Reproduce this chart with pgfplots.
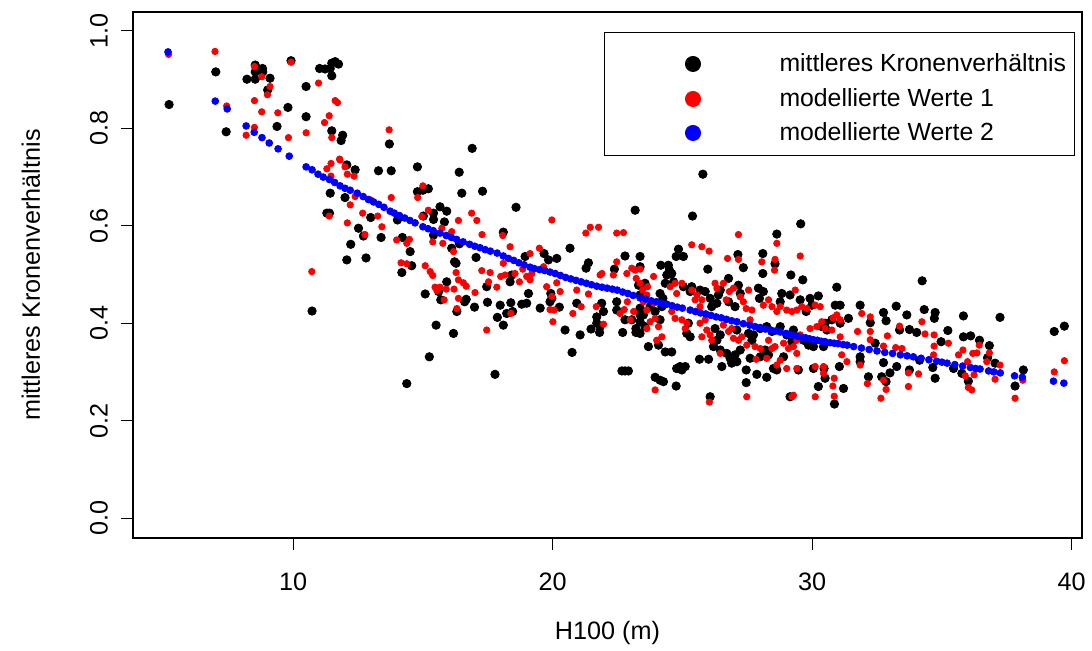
\documentclass[border=0pt]{standalone}
\usepackage{fontspec}
\setmainfont{Liberation Sans}
\usepackage{pgfplots}
\pgfplotsset{compat=1.18}
\newcommand{\fs}{\fontsize{12.6}{15}\selectfont}
\newcommand{\fl}{\fontsize{12.4}{15}\selectfont}
\pgfplotsset{
  legA/.style={legend image code/.code={\path (-40pt,15.5pt) (43pt,-8.5pt); \draw[##1, mark size=3.75pt] plot coordinates {(0pt,0pt)};}},
  legB/.style={legend image code/.code={\path (-40pt,8.5pt) (43pt,-8.25pt); \draw[##1, mark size=3.75pt] plot coordinates {(0pt,0pt)};}},
  legC/.style={legend image code/.code={\path (-40pt,8.25pt) (43pt,-11pt); \draw[##1, mark size=3.75pt] plot coordinates {(0pt,0pt)};}},
}
\begin{document}
\begin{tikzpicture}[font=\fs]
\begin{axis}[
  scale only axis, width=474.5pt, height=263pt,
  xmin=3.83, xmax=40.40, ymin=-0.041, ymax=1.039,
  axis line style={line width=0.6pt, black},
  xtick={10,20,30,40}, ytick={0,0.2,0.4,0.6,0.8,1.0},
  xtick pos=left, ytick pos=left, tick align=outside,
  major tick length=6pt, tick style={line width=0.5pt, black},
  /pgf/number format/assume math mode=true,
  yticklabel style={/pgf/number format/fixed, /pgf/number format/fixed zerofill, /pgf/number format/precision=1, rotate=90, anchor=center},
  xticklabel style={anchor=center},
  xticklabel shift=16pt, yticklabel shift=11pt,
  tick label style={font=\fs},
  label style={font=\fs},
  xlabel={H100 (m)}, ylabel={mittleres Kronenverhältnis},
  xlabel style={at={(axis description cs:0.5,-0.1806)}, anchor=center},
  ylabel style={at={(axis description cs:-0.1075,0.5)}, anchor=center},
  legend cell align=left,
  legend style={at={(rel axis cs:0.4963,0.962)}, anchor=north west, draw=black, line width=0.5pt, fill=white,
    inner xsep=4pt, inner ysep=0pt, row sep=0pt, column sep=0pt, font=\fl, nodes={inner sep=0pt}},
]
% mittleres Kronenverhaeltnis (observed)
\addplot[only marks, mark=*, black, mark size=2.1pt, mark options={draw=none}, legA]
coordinates {
(5.22,0.849) (7.02,0.916) (7.42,0.793) (8.22,0.901) (8.54,0.930) (8.54,0.916) (8.54,0.901) (8.82,0.923)
(8.83,0.916) (9.11,0.903) (9.02,0.879) (9.92,0.939) (9.80,0.843) (9.38,0.804) (10.50,0.886) (10.50,0.824)
(11.02,0.923) (11.23,0.922) (11.43,0.923) (11.49,0.934) (11.62,0.937) (11.75,0.932) (11.49,0.908) (11.49,0.795)
(11.43,0.667) (11.40,0.626) (11.30,0.626) (10.73,0.425)
(11.91,0.786) (11.85,0.775) (13.71,0.768) (16.90,0.759) (12.07,0.725) (12.39,0.715) (13.29,0.713) (13.78,0.713)
(14.79,0.721) (16.40,0.710) (14.79,0.670) (15.00,0.673) (15.21,0.676) (16.50,0.667) (17.30,0.671) (18.59,0.638)
(12.00,0.658) (12.99,0.617) (12.52,0.595) (12.71,0.579) (12.22,0.562) (12.07,0.530) (12.81,0.534) (13.39,0.576)
(14.02,0.612) (14.21,0.576) (14.51,0.547) (14.19,0.504) (14.57,0.518) (15.02,0.620) (15.41,0.626) (15.66,0.639)
(15.92,0.630) (15.83,0.608) (15.41,0.613) (15.41,0.581) (16.11,0.554) (16.22,0.526) (16.28,0.523) (16.41,0.563)
(15.92,0.485) (15.69,0.448) (15.61,0.465) (16.67,0.449) (16.61,0.444) (16.31,0.424) (16.99,0.433) (15.09,0.460)
(15.51,0.396) (16.18,0.379) (15.25,0.331) (14.38,0.276) (17.78,0.295) (18.10,0.587) (17.05,0.535) (17.46,0.475)
(17.49,0.443) (17.98,0.437) (18.39,0.442) (17.87,0.412) (18.10,0.396) (18.23,0.420) (18.46,0.424) (18.36,0.485)
(18.43,0.499) (18.81,0.439) (18.94,0.537) (19.07,0.461) (19.00,0.441) (19.52,0.431) (19.67,0.543) (19.84,0.530)
(19.90,0.444)
(25.79,0.706) (23.18,0.632) (25.39,0.620) (20.67,0.554) (20.16,0.533) (22.79,0.538) (21.38,0.524) (21.29,0.513)
(22.38,0.511) (28.64,0.583) (19.93,0.461) (19.97,0.451) (20.26,0.433) (20.93,0.441) (21.89,0.441) (21.96,0.424)
(21.70,0.413) (21.70,0.400) (21.83,0.393) (20.48,0.386) (21.06,0.376) (21.48,0.388) (21.81,0.381) (20.75,0.340)
(22.47,0.444) (22.47,0.427) (22.70,0.381) (22.79,0.407) (23.05,0.407) (23.21,0.381) (23.21,0.389) (23.31,0.478)
(22.79,0.302) (22.67,0.302) (22.92,0.302)
(24.85,0.552) (24.76,0.537) (25.04,0.537) (27.14,0.541) (28.10,0.543) (28.57,0.522) (29.18,0.499) (29.64,0.489)
(28.10,0.502) (27.35,0.514) (26.78,0.492) (25.98,0.511) (24.17,0.519) (24.46,0.519) (24.50,0.509) (24.59,0.502)
(24.40,0.499) (24.66,0.485) (24.34,0.482) (23.37,0.537) (23.37,0.516) (23.56,0.482) (23.37,0.458) (24.14,0.461)
(24.25,0.451) (25.04,0.475) (25.36,0.475) (25.30,0.465) (25.68,0.468) (25.88,0.465) (26.07,0.451) (26.33,0.441)
(26.13,0.434) (26.46,0.468) (26.39,0.458) (26.78,0.444) (27.16,0.478) (27.23,0.461) (27.03,0.434) (27.93,0.472)
(28.12,0.465) (27.97,0.451) (28.83,0.461) (28.77,0.444) (29.15,0.458) (29.54,0.448) (29.92,0.451) (29.99,0.437)
(30.24,0.456) (29.77,0.424) (30.50,0.400) (30.37,0.393) (30.57,0.386) (23.37,0.431) (23.37,0.417) (23.50,0.417)
(23.76,0.434) (23.95,0.424) (24.14,0.407) (24.21,0.434) (23.37,0.403) (23.37,0.379) (23.56,0.393) (23.69,0.352)
(24.08,0.355) (24.34,0.341) (24.59,0.341) (25.23,0.400) (25.17,0.379) (25.30,0.372) (26.26,0.389) (26.33,0.365)
(26.46,0.376) (26.20,0.352) (26.46,0.345) (26.71,0.338) (27.03,0.335) (27.23,0.345) (26.84,0.328) (27.10,0.386)
(27.55,0.379) (27.68,0.365) (27.74,0.376) (28.00,0.389) (28.25,0.393) (28.45,0.383) (28.77,0.393) (29.02,0.376)
(29.28,0.386) (29.22,0.362) (29.67,0.365) (29.86,0.355) (30.05,0.352) (30.44,0.352) (27.61,0.328) (28.00,0.331)
(28.19,0.345) (28.32,0.335) (25.66,0.326) (26.01,0.326) (24.78,0.307) (24.91,0.311) (25.11,0.311) (24.98,0.304)
(26.52,0.311) (26.90,0.318) (27.10,0.321) (27.46,0.304) (27.87,0.295) (28.25,0.289) (28.51,0.307) (28.64,0.304)
(28.90,0.331) (29.47,0.304) (30.05,0.307) (30.46,0.307) (30.50,0.287) (23.95,0.289) (24.14,0.283) (24.27,0.280)
(24.76,0.271) (27.46,0.278) (26.07,0.249) (30.24,0.270) (29.15,0.249)
(29.56,0.604) (30.95,0.474) (34.24,0.487) (30.89,0.437) (31.08,0.437) (31.85,0.437) (31.40,0.410) (30.76,0.407)
(31.08,0.400) (32.24,0.401) (32.75,0.422) (32.85,0.405) (33.24,0.435) (33.65,0.417) (33.37,0.386) (33.75,0.387)
(34.03,0.381) (34.32,0.428) (34.74,0.422) (34.71,0.410) (34.97,0.362) (35.23,0.385) (35.83,0.415) (35.83,0.372)
(36.11,0.374) (36.45,0.365) (36.83,0.354) (37.24,0.412) (36.76,0.329) (37.05,0.318) (38.14,0.304) (37.82,0.271)
(39.33,0.383) (39.72,0.394) (31.05,0.311) (30.86,0.234) (31.21,0.266) (31.85,0.331) (31.85,0.321) (32.17,0.290)
(32.43,0.359) (32.75,0.319) (32.68,0.290) (32.85,0.280) (33.00,0.298) (33.26,0.311) (33.75,0.304) (34.14,0.324)
(34.65,0.309) (34.74,0.287) (35.45,0.307) (35.77,0.297) (36.02,0.281)
};
\addlegendentry{mittleres Kronenverhältnis}
% modellierte Werte 1
\addplot[only marks, mark=*, red, mark size=1.6pt, mark options={draw=none}, legB]
coordinates {
(5.20,0.952) (6.99,0.958) (7.44,0.846) (8.51,0.927) (8.79,0.906) (9.11,0.886) (9.01,0.869) (8.51,0.857)
(8.79,0.834) (9.41,0.832) (8.51,0.802) (8.19,0.786) (9.82,0.781) (9.92,0.936) (10.50,0.791) (10.98,0.893)
(11.62,0.857) (11.71,0.853) (11.39,0.826) (11.21,0.812) (11.49,0.781) (11.46,0.728) (11.79,0.737) (11.30,0.717)
(11.46,0.702) (11.39,0.620) (10.72,0.506)
(13.70,0.797) (11.81,0.735) (12.00,0.721) (12.35,0.702) (12.09,0.706) (12.20,0.643) (12.39,0.660) (12.09,0.606)
(12.68,0.626) (12.99,0.653) (13.26,0.620) (13.42,0.598) (13.78,0.658) (12.77,0.582) (13.99,0.571) (14.38,0.564)
(14.48,0.572) (14.16,0.524) (14.38,0.522) (15.00,0.682) (14.80,0.658) (15.21,0.632) (14.96,0.619) (15.09,0.518)
(15.28,0.506) (15.38,0.498) (15.47,0.474) (15.66,0.474) (15.90,0.470) (15.54,0.467) (15.82,0.448) (15.38,0.567)
(15.73,0.595) (15.77,0.564) (16.11,0.588) (16.37,0.611) (16.18,0.547) (16.28,0.504) (16.37,0.489) (16.56,0.483)
(16.67,0.476) (16.20,0.470) (16.37,0.451) (16.31,0.430) (17.01,0.463) (16.88,0.626) (17.08,0.611) (17.28,0.582)
(17.53,0.485) (17.27,0.508) (17.59,0.504) (17.46,0.386) (18.08,0.580) (18.10,0.523) (17.85,0.474) (18.00,0.496)
(18.17,0.499) (18.36,0.557) (18.39,0.420) (18.55,0.502) (18.72,0.485) (18.85,0.511) (19.00,0.496) (19.13,0.489)
(19.20,0.502) (19.13,0.543) (19.49,0.554) (19.65,0.516) (19.77,0.475) (19.90,0.428)
(19.97,0.612) (21.28,0.585) (21.45,0.597) (21.77,0.597) (22.47,0.585) (22.73,0.586) (27.16,0.582)
(21.90,0.502) (21.83,0.499) (22.34,0.499) (22.47,0.526) (22.86,0.502) (23.05,0.513) (23.18,0.509) (23.37,0.511)
(23.22,0.492) (20.16,0.483) (20.29,0.465) (20.93,0.468) (21.38,0.460) (21.10,0.434) (20.78,0.420) (19.97,0.455)
(20.06,0.427) (20.01,0.403) (21.68,0.434) (21.96,0.398) (22.60,0.420) (22.76,0.428) (22.99,0.407) (23.12,0.424)
(22.88,0.444) (26.04,0.238)
(25.36,0.561) (25.75,0.557) (26.03,0.548) (28.64,0.564) (29.54,0.538) (26.74,0.533) (27.16,0.531) (28.06,0.526)
(28.57,0.531) (28.55,0.509) (23.89,0.496) (23.37,0.482) (23.47,0.468) (23.63,0.458) (23.66,0.475) (24.53,0.475)
(24.72,0.482) (24.98,0.482) (24.78,0.461) (25.36,0.468) (25.56,0.458) (25.49,0.448) (25.75,0.448) (25.68,0.434)
(26.26,0.482) (26.33,0.472) (26.58,0.482) (26.81,0.465) (26.69,0.448) (26.97,0.472) (27.23,0.454) (27.35,0.444)
(27.55,0.468) (27.46,0.430) (27.68,0.427) (27.61,0.407) (28.12,0.437) (28.32,0.448) (28.45,0.434) (28.64,0.424)
(28.77,0.434) (29.02,0.427) (29.22,0.424) (29.41,0.427) (29.60,0.434) (29.35,0.468) (29.80,0.430) (30.12,0.437)
(30.31,0.434) (30.18,0.393) (30.37,0.403) (30.50,0.389) (29.92,0.389) (29.54,0.376) (29.41,0.365) (23.63,0.427)
(23.76,0.403) (23.95,0.410) (24.08,0.393) (23.63,0.389) (23.50,0.444) (23.89,0.441) (24.59,0.424) (24.72,0.410)
(24.98,0.407) (25.11,0.389) (25.17,0.400) (24.21,0.372) (24.01,0.365) (25.68,0.400) (25.88,0.407) (25.94,0.386)
(25.75,0.372) (26.07,0.376) (26.13,0.365) (26.58,0.396) (26.78,0.383) (26.90,0.389) (26.97,0.369) (27.16,0.365)
(27.29,0.372) (27.48,0.355) (27.80,0.352) (28.00,0.348) (28.32,0.365) (28.45,0.348) (28.57,0.352) (28.90,0.359)
(29.09,0.348) (29.28,0.352) (29.41,0.338) (28.64,0.314) (28.77,0.324) (29.02,0.307) (26.46,0.338) (27.84,0.326)
(28.25,0.328) (30.12,0.311) (30.44,0.311) (30.44,0.297) (29.41,0.307) (23.95,0.263) (27.48,0.249) (29.22,0.249)
(29.28,0.252) (30.12,0.249)
(30.80,0.411) (30.95,0.417) (31.08,0.407) (31.08,0.372) (30.76,0.386) (30.85,0.287) (30.80,0.271) (30.85,0.250)
(31.14,0.335) (31.34,0.321) (31.91,0.420) (32.24,0.413) (31.75,0.383) (32.24,0.383) (32.24,0.366) (31.85,0.314)
(32.13,0.276) (32.65,0.246) (32.85,0.264) (32.75,0.283) (32.75,0.353) (32.90,0.374) (33.22,0.350) (33.37,0.394)
(33.46,0.348) (33.71,0.298) (33.71,0.270) (34.10,0.296) (34.23,0.403) (34.35,0.378) (34.70,0.376) (34.70,0.353)
(34.68,0.335) (35.25,0.359) (35.64,0.335) (35.81,0.345) (35.99,0.321) (36.19,0.338) (36.35,0.339) (36.24,0.294)
(36.02,0.268) (36.15,0.263) (35.90,0.292) (36.44,0.355) (36.83,0.339) (36.73,0.321) (37.05,0.285) (37.24,0.314)
(38.12,0.283) (37.82,0.246) (39.33,0.300) (39.72,0.323)
};
\addlegendentry{modellierte Werte 1}
% modellierte Werte 2
\addplot[only marks, mark=*, blue, mark size=1.7pt, mark options={draw=none}, legC]
coordinates {
(5.18,0.957) (7.00,0.856) (7.46,0.840) (8.19,0.805) (8.50,0.792) (8.80,0.781) (9.08,0.770) (9.42,0.758)
(9.85,0.743) (10.50,0.721) (10.73,0.715) (10.96,0.706) (11.16,0.700) (11.40,0.695) (11.60,0.689) (11.81,0.682)
(12.00,0.677) (12.20,0.673) (12.47,0.667) (12.70,0.660) (12.90,0.654) (13.10,0.649) (13.30,0.644) (13.50,0.638)
(13.74,0.630) (13.90,0.626) (14.10,0.621) (14.30,0.616) (14.50,0.611) (14.70,0.606) (15.00,0.598) (15.20,0.594)
(15.40,0.590) (15.66,0.585) (15.90,0.580) (16.10,0.576) (16.30,0.572) (16.55,0.567) (16.80,0.562) (17.00,0.558)
(17.20,0.555) (17.40,0.551) (17.60,0.548) (17.86,0.544) (18.10,0.538) (18.30,0.533) (18.50,0.529) (18.70,0.524)
(18.90,0.520) (19.13,0.515) (19.30,0.512) (19.50,0.510) (19.70,0.508) (19.90,0.505) (20.10,0.502) (20.30,0.498)
(20.50,0.494) (20.70,0.491) (20.90,0.488) (21.10,0.485) (21.30,0.482) (21.50,0.479) (21.70,0.476) (21.90,0.474)
(22.10,0.472) (22.30,0.470) (22.49,0.468) (22.70,0.464) (22.90,0.461) (23.10,0.457) (23.37,0.452) (23.60,0.449)
(23.80,0.446) (24.00,0.444) (24.20,0.441) (24.40,0.439) (24.60,0.436) (24.80,0.433) (25.00,0.431) (25.30,0.427)
(25.50,0.424) (25.70,0.421) (25.90,0.419) (26.10,0.416) (26.30,0.413) (26.50,0.411) (26.70,0.408) (26.90,0.405)
(27.10,0.403) (27.35,0.399) (27.60,0.396) (27.80,0.393) (28.00,0.391) (28.20,0.388) (28.40,0.386) (28.60,0.384)
(28.77,0.382) (29.00,0.379) (29.15,0.377) (29.30,0.375) (29.45,0.373) (29.60,0.371) (29.75,0.370) (29.90,0.368)
(30.05,0.366) (30.20,0.365) (30.35,0.363) (30.50,0.362) (30.69,0.360) (30.85,0.359) (31.00,0.358) (31.20,0.356)
(31.35,0.355) (31.60,0.352) (31.90,0.349) (32.20,0.346) (32.50,0.343) (32.80,0.340) (33.10,0.338) (33.40,0.335)
(33.66,0.333) (33.90,0.331) (34.20,0.328) (34.50,0.325) (34.80,0.322) (35.00,0.320) (35.20,0.318) (35.50,0.315)
(35.80,0.312) (36.10,0.309) (36.30,0.307) (36.47,0.306) (36.80,0.302) (37.00,0.300) (37.25,0.298) (37.80,0.292)
(38.10,0.289) (39.30,0.281) (39.70,0.277)
};
\addlegendentry{modellierte Werte 2}
\end{axis}
\pgfresetboundingbox
\path (-66.5pt,-56.5pt) rectangle (479.5pt,269pt);
\end{tikzpicture}
\end{document}
